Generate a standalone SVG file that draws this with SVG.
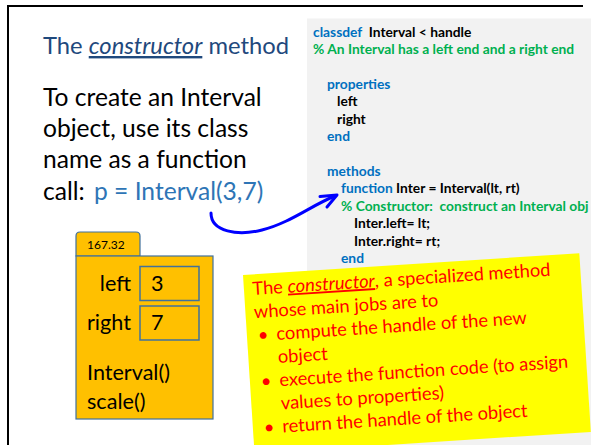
<svg xmlns="http://www.w3.org/2000/svg" width="591" height="445" viewBox="0 0 591 445">
<style>
.ttl{font-family:Lato,"Liberation Sans",sans-serif;font-size:24px;fill:#1F497D}
.body{font-family:Lato,"Liberation Sans",sans-serif;font-size:24.6px;fill:#000}
.code{font-family:Lato,"Liberation Sans",sans-serif;font-size:13.8px;font-weight:bold;fill:#000}
.kw{fill:#0070C0}
.cm{fill:#00B050}
.obj{font-family:Lato,"Liberation Sans",sans-serif;font-size:21.6px;fill:#000}
.note{font-family:Lato,"Liberation Sans",sans-serif;font-size:18.3px;fill:#FF0000}
.box{fill:#FFC000;stroke:#41719C;stroke-width:1.2}
.vbox{fill:none;stroke:#41719C;stroke-width:1.5}
.conn{fill:none;stroke:#0000FF;stroke-width:3;stroke-linecap:round;stroke-linejoin:round}
</style>
<rect x="0" y="0" width="591" height="445" fill="#fff"/>
<line x1="7" y1="6" x2="583" y2="6" stroke="#000" stroke-width="2"/>
<line x1="8" y1="5" x2="8" y2="445" stroke="#000" stroke-width="2"/>

<g id="code-panel">
<rect x="307" y="18.5" width="284" height="427" fill="#F2F2F2"/>
<text class="code" x="313" y="36.7" xml:space="preserve"><tspan class="kw">classdef</tspan>  Interval &lt; handle</text>
<text class="code cm" x="313" y="54.1">% An Interval has a left end and a right end</text>
<text class="code kw" x="327" y="88.9">properties</text>
<text class="code" x="337" y="106.3">left</text>
<text class="code" x="337" y="123.7">right</text>
<text class="code kw" x="327" y="141.1">end</text>
<text class="code kw" x="327" y="175.9">methods</text>
<text class="code" x="341" y="193.3"><tspan class="kw">function</tspan> Inter = Interval(lt, rt)</text>
<text class="code cm" x="341" y="210.7" xml:space="preserve">% Constructor:  construct an Interval obj</text>
<text class="code" x="354" y="228.1">Inter.left= lt;</text>
<text class="code" x="354" y="245.5">Inter.right= rt;</text>
<text class="code kw" x="341" y="262.9">end</text>
</g>

<g id="title">
<text class="ttl" x="43" y="54" textLength="246" lengthAdjust="spacingAndGlyphs">The <tspan font-style="italic" text-decoration="underline">constructor</tspan> method</text>
</g>

<g id="explanation">
<text class="body" x="43" y="106">To create an Interval</text>
<text class="body" x="43" y="137">object, use its class</text>
<text class="body" x="43" y="168">name as a function</text>
<text class="body" x="43" y="200">call:<tspan x="94" fill="#2E75B6">p = Interval(3,7)</tspan></text>
</g>

<g id="object">
<path class="box" d="M76,256 V236 Q76,232 80,232 H136 Q140,232 140,236 V256 Z"/>
<rect class="box" x="76" y="256" width="137" height="163"/>
<text x="87" y="248.5" font-family="Lato,'Liberation Sans',sans-serif" font-size="12" fill="#000">167.32</text>
<rect class="vbox" x="140" y="266.5" width="59" height="34"/>
<rect class="vbox" x="140" y="306" width="59" height="34"/>
<text class="obj" x="131" y="290.5" text-anchor="end">left</text>
<text class="obj" x="151" y="290.5">3</text>
<text class="obj" x="87" y="330">right</text>
<text class="obj" x="151" y="330">7</text>
<text class="obj" x="87" y="379.5">Interval()</text>
<text class="obj" x="87" y="408.5">scale()</text>
</g>

<g id="connectors">
<path class="conn" d="M211,213 C211,232 238,236 262,230 C290,223 312,205 335,196"/>
<path class="conn" d="M320,196.5 L337,195 L327,207"/>
</g>

<g id="note" transform="translate(243,275) rotate(-3.7)">
<rect x="0" y="0" width="337" height="179" fill="#FFFF00"/>
<text class="note" x="8.5" y="20.6">The <tspan font-style="italic" text-decoration="underline">constructor</tspan>, a specialized method</text>
<text class="note" x="8.5" y="43.8">whose main jobs are to</text>
<text class="note" x="11" y="67" font-size="14">•</text>
<text class="note" x="29.5" y="67">compute the handle of the new</text>
<text class="note" x="29.5" y="90.2">object</text>
<text class="note" x="11" y="113.4" font-size="14">•</text>
<text class="note" x="29.5" y="113.4">execute the function code (to assign</text>
<text class="note" x="29.5" y="136.6">values to properties)</text>
<text class="note" x="11" y="159.8" font-size="14">•</text>
<text class="note" x="29.5" y="159.8">return the handle of the object</text>
</g>
</svg>
